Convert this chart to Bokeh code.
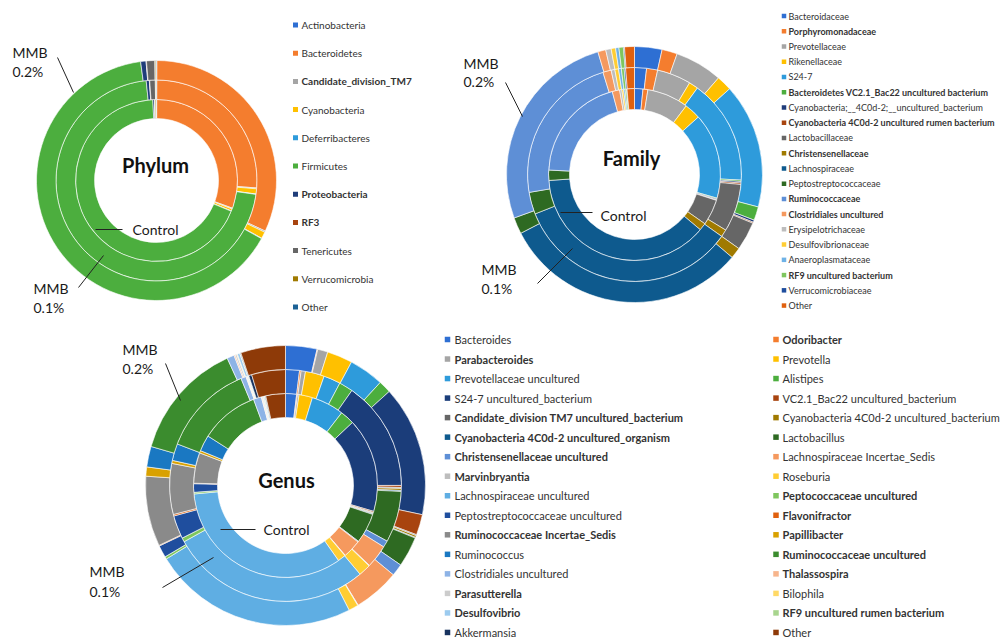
import numpy as np
from bokeh.plotting import figure
from bokeh.models import ColumnDataSource, Range1d
from bokeh.core.properties import value
from bokeh.embed import file_html
from bokeh.resources import INLINE

# ---------------- DATA ----------------
rings = ["Control", "MMB 0.1%", "MMB 0.2%"]

phylum_names = ["Actinobacteria", "Bacteroidetes", "Candidate_division_TM7", "Cyanobacteria",
                "Deferribacteres", "Firmicutes", "Proteobacteria", "RF3", "Tenericutes",
                "Verrucomicrobia", "Other"]
phylum_bold = [0, 0, 1, 0, 0, 0, 1, 1, 0, 0, 0]
phylum_control = [0.06, 30.56, 0.17, 0.42, 0.06, 68.19, 0.33, 0.03, 0.08, 0.22, 0.06]
phylum_mmb01 = [0.06, 26.11, 0.14, 0.83, 0.06, 71.11, 0.50, 0.06, 0.89, 0.11, 0.08]
phylum_mmb02 = [0.06, 31.81, 0.17, 0.89, 0.06, 64.72, 0.72, 0.06, 1.11, 0.14, 0.08]
phylum_colors = ["#2E6FD3", "#F47D2E", "#A5A5A5", "#FFC000", "#2E9BDB", "#4CAE3E",
                 "#1F3D7A", "#A8440F", "#666666", "#A07A00", "#1C6296"]

family_names = ["Bacteroidaceae", "Porphyromonadaceae", "Prevotellaceae", "Rikenellaceae", "S24-7",
                "Bacteroidetes VC2.1_Bac22 uncultured bacterium",
                "Cyanobacteria;__4C0d-2;__uncultured_bacterium",
                "Cyanobacteria 4C0d-2 uncultured rumen bacterium",
                "Lactobacillaceae", "Christensenellaceae", "Lachnospiraceae",
                "Peptostreptococcaceae", "Ruminococcaceae", "Clostridiales uncultured",
                "Erysipelotrichaceae", "Desulfovibrionaceae", "Anaeroplasmataceae",
                "RF9 uncultured bacterium", "Verrucomicrobiaceae", "Other"]
family_bold = [0, 1, 0, 0, 0, 1, 0, 1, 0, 1, 0, 0, 1, 1, 0, 0, 0, 1, 0, 0]
family_control = [1.58, 0.92, 7.78, 3.06, 16.11, 0.17, 0.17, 0.08, 4.86, 1.39, 37.78, 1.94,
                  20.00, 1.39, 0.42, 0.33, 0.28, 0.28, 0.08, 1.39]
family_mmb01 = [1.81, 1.67, 5.14, 1.39, 15.83, 0.22, 0.22, 0.22, 7.22, 1.11, 34.17, 3.33,
                22.92, 1.25, 0.56, 0.56, 0.42, 0.42, 0.22, 1.33]
family_mmb02 = [3.47, 1.94, 6.00, 1.94, 15.78, 1.72, 0.28, 0.14, 3.61, 1.39, 31.25, 2.08,
                25.94, 1.00, 0.69, 0.56, 0.42, 0.56, 0.14, 1.25]
family_colors = ["#2E6FD3", "#F47D2E", "#A5A5A5", "#FFC000", "#2E9BDB", "#4CAE3E", "#1F3D7A",
                 "#A8440F", "#666666", "#A07A00", "#0E5A8E", "#2E6A22", "#5E8FD6", "#F5995E",
                 "#BDBDBD", "#FFCD33", "#6FB2E6", "#7FC65E", "#1F4E9E", "#E0600E"]

genus_names = ["Bacteroides", "Odoribacter", "Parabacteroides", "Prevotella",
               "Prevotellaceae uncultured", "Alistipes", "S24-7 uncultured_bacterium",
               "VC2.1_Bac22 uncultured_bacterium", "Candidate_division TM7 uncultured_bacterium",
               "Cyanobacteria 4C0d-2 uncultured_bacterium", "Cyanobacteria 4C0d-2 uncultured_organism",
               "Lactobacillus", "Christensenellaceae uncultured", "Lachnospiraceae Incertae_Sedis",
               "Marvinbryantia", "Roseburia", "Lachnospiraceae uncultured", "Peptococcaceae uncultured",
               "Peptostreptococcaceae uncultured", "Flavonifractor", "Ruminococcaceae Incertae_Sedis",
               "Papillibacter", "Ruminococcus", "Ruminococcaceae uncultured", "Clostridiales uncultured",
               "Thalassospira", "Parasutterella", "Bilophila", "Desulfovibrio",
               "RF9 uncultured rumen bacterium", "Akkermansia", "Other"]
genus_bold = [0, 1, 1, 0, 0, 0, 0, 0, 1, 0, 1, 0, 1, 0, 1, 0, 0, 1, 0, 1, 1, 1, 0, 1, 0, 1,
              1, 0, 1, 1, 0, 0]
genus_control = [1.94, 0.14, 0.28, 2.36, 5.72, 2.50, 16.50, 0.20, 0.12, 0.12, 0.12, 5.28, 0.14,
                 3.19, 0.08, 1.39, 33.20, 0.28, 1.50, 0.08, 5.36, 0.42, 2.83, 10.28, 1.39, 0.10,
                 0.17, 0.10, 0.17, 0.12, 0.14, 3.44]
genus_mmb01 = [1.94, 0.22, 0.61, 2.64, 2.36, 1.94, 15.28, 0.28, 0.14, 0.28, 0.14, 7.14, 0.92,
               3.22, 0.08, 1.69, 28.06, 0.56, 3.25, 0.22, 7.08, 0.42, 2.36, 12.89, 0.72, 0.08,
               0.08, 0.08, 0.11, 0.06, 0.42, 4.72]
genus_mmb02 = [3.61, 0.08, 1.17, 2.92, 4.00, 1.44, 15.00, 2.36, 0.11, 0.22, 0.08, 3.47, 1.39,
               5.28, 0.06, 1.11, 23.61, 0.28, 1.39, 0.08, 8.06, 1.06, 2.36, 13.61, 0.83, 0.14,
               0.19, 0.08, 0.28, 0.06, 0.08, 5.14]
genus_colors = ["#2E6FD3", "#F47D2E", "#A5A5A5", "#FFC000", "#2E9BDB", "#4CAE3E", "#1B3D7A",
                "#A8440F", "#666666", "#A07A00", "#0E5A8E", "#2E6A22", "#5E8FD6", "#F5995E",
                "#BDBDBD", "#FFCD33", "#5FAEE3", "#7FC65E", "#1F4E9E", "#E0600E", "#8A8A8A",
                "#D9A100", "#1A78C2", "#3B8C2E", "#8DB3E6", "#F7B58C", "#CCCCCC", "#FFD966",
                "#9CCBEF", "#A8D58E", "#18335F", "#8E3A08"]

# ---------------- FIGURE ----------------
W, H = 1001, 639
p = figure(width=W, height=H, x_range=Range1d(0, W), y_range=Range1d(0, H),
           output_backend="svg", toolbar_location=None, min_border=0)
p.axis.visible = False
p.grid.visible = False
p.outline_line_color = None


def Y(py):
    return H - py


FONT = value("Lato")


def donut(cx, cy, radii, ring_values, colors):
    for (r0, r1), vals in zip(radii, ring_values):
        v = np.array(vals, dtype=float)
        f = np.concatenate([[0.0], np.cumsum(v) / v.sum()])
        src = ColumnDataSource(dict(s=np.pi / 2 - 2 * np.pi * f[:-1],
                                    e=np.pi / 2 - 2 * np.pi * f[1:], c=colors))
        p.annular_wedge(x=cx, y=Y(cy), inner_radius=r0, outer_radius=r1,
                        start_angle="s", end_angle="e", direction="clock",
                        fill_color="c", line_color="white", line_width=0.6, source=src)


def label(x, py, txt, size, bold=False, align="left", color="#1a1a1a"):
    p.text(x=[x], y=[Y(py)], text=[txt], text_font=FONT, text_font_size=value(size),
           text_font_style="bold" if bold else "normal", text_align=align,
           text_baseline="middle", text_color=color)


def leader(x0, y0, x1, y1):
    p.line(x=[x0, x1], y=[Y(y0), Y(y1)], line_color="#222222", line_width=1)


def legend(names, bold, colors, sq_x, tx_x, y0, step, sq, font_size):
    ys = [Y(y0 + i * step) for i in range(len(names))]
    src = ColumnDataSource(dict(x=[sq_x] * len(names), tx=[tx_x] * len(names), y=ys,
                                c=colors, t=names,
                                fs=["bold" if b else "normal" for b in bold]))
    p.rect(x="x", y="y", width=sq, height=sq, fill_color="c", line_color=None, source=src)
    p.text(x="tx", y="y", text="t", text_font=FONT, text_font_size=value(font_size),
           text_font_style="fs", text_baseline="middle", text_color="#333333", source=src)


# Phylum
donut(156, 180, [(62, 81), (81, 100.5), (100.5, 120)],
      [phylum_control, phylum_mmb01, phylum_mmb02], phylum_colors)
label(155, 164, "Phylum", "20px", bold=True, align="center", color="#111111")
label(132, 229, "Control", "14px")
leader(95, 229, 122, 229)
label(12, 52, "MMB", "14px")
label(12, 71, "0.2%", "14px")
leader(57, 57, 73, 92)
label(33, 288, "MMB", "14px")
label(33, 307, "0.1%", "14px")
leader(78, 287, 103, 255)
legend(phylum_names, phylum_bold, phylum_colors, 295, 301, 24.5, 28.2, 5, "10px")

# Family
donut(634, 174, [(65, 86), (86, 107), (107, 128)],
      [family_control, family_mmb01, family_mmb02], family_colors)
label(631, 157, "Family", "20px", bold=True, align="center", color="#111111")
label(600, 215, "Control", "14px")
leader(560, 212, 592, 212)
label(463, 63, "MMB", "14px")
label(463, 81, "0.2%", "14px")
leader(505, 82, 522, 116)
label(481, 269, "MMB", "14px")
label(481, 288, "0.1%", "14px")
leader(537, 283, 572, 248)
legend(family_names, family_bold, family_colors, 783.5, 788, 15.5, 15.24, 4.5, "9px")

# Genus
donut(285, 485, [(68, 92), (92, 116), (116, 140)],
      [genus_control, genus_mmb01, genus_mmb02], genus_colors)
label(286, 479, "Genus", "20px", bold=True, align="center", color="#111111")
label(263, 529, "Control", "14px")
leader(220, 529, 255, 529)
label(122, 349, "MMB", "14px")
label(122, 368, "0.2%", "14px")
leader(165, 363, 180, 400)
label(89, 571, "MMB", "14px")
label(89, 591, "0.1%", "14px")
leader(162, 587, 213, 557)
legend(genus_names[0::2], genus_bold[0::2], genus_colors[0::2], 447, 454, 339, 19.53, 5.5, "11px")
legend(genus_names[1::2], genus_bold[1::2], genus_colors[1::2], 775.5, 782, 339, 19.53, 5.5, "11px")

open("out.html", "w").write(file_html(p, INLINE))
